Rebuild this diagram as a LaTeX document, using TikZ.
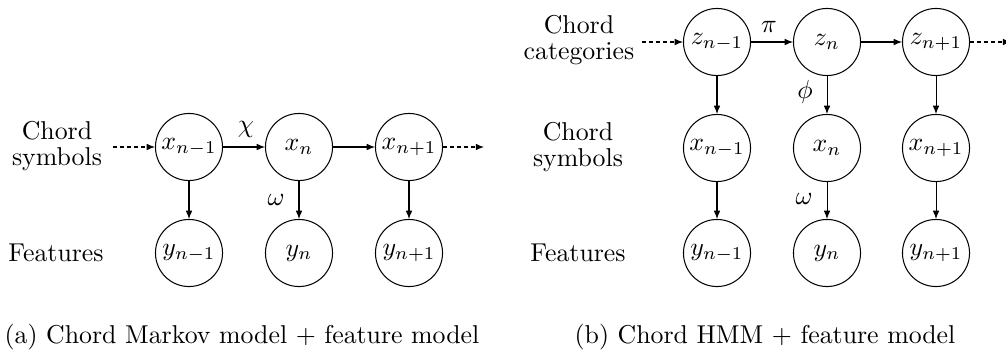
\documentclass[tikz,border=0pt]{standalone}
\usetikzlibrary{arrows.meta}
\begin{document}
\begin{tikzpicture}[x=0.3876pt,y=-0.3876pt,
  var/.style={circle,draw,line width=0.4pt,minimum size=26pt,inner sep=0pt},
  lab/.style={align=center,font=\fontsize{10}{10}\selectfont},
  arr/.style={-{Latex[length=3.2pt,width=2.6pt]},line width=0.4pt},
  dotarr/.style={arr,dash pattern=on 1.5pt off 1.2pt},
  prm/.style={inner sep=0pt}]
\useasboundingbox (0,0) rectangle (1006,349);
% ---------- panel (a) ----------
\node[lab] (la1) at (57,146) {Chord\\symbols};
\node[lab] (la2) at (56,253) {Features};
\node[var] (ax1) at (189,147) {$x_{n-1}$};
\node[var] (ax2) at (299,147) {$x_n$};
\node[var] (ax3) at (409,147) {$x_{n+1}$};
\node[var] (ay1) at (189,253) {$y_{n-1}$};
\node[var] (ay2) at (299,253) {$y_n$};
\node[var] (ay3) at (409,253) {$y_{n+1}$};
\coordinate (ain) at (113,147);
\coordinate (aout) at (484,147);
\draw[dotarr] (ain) -- (ax1);
\draw[arr] (ax1) -- (ax2);
\draw[arr] (ax2) -- (ax3);
\draw[dotarr] (ax3) -- (aout);
\draw[arr] (ax1) -- (ay1);
\draw[arr] (ax2) -- (ay2);
\draw[arr] (ax3) -- (ay3);
\node[prm] (achi) at (246,129) {$\chi$};
\node[prm] (aom) at (276,200) {$\omega$};
\node[anchor=base] (capa) at (242,343) {(a) Chord Markov model + feature model};
% ---------- panel (b) ----------
\node[lab] (lb1) at (579,40) {Chord\\categories};
\node[lab] (lb2) at (578,147) {Chord\\symbols};
\node[lab] (lb3) at (578,253) {Features};
\node[var] (bz1) at (717,42) {$z_{n-1}$};
\node[var] (bz2) at (827,42) {$z_n$};
\node[var] (bz3) at (936,42) {$z_{n+1}$};
\node[var] (bx1) at (717,148) {$x_{n-1}$};
\node[var] (bx2) at (827,148) {$x_n$};
\node[var] (bx3) at (936,148) {$x_{n+1}$};
\node[var] (by1) at (717,253) {$y_{n-1}$};
\node[var] (by2) at (827,253) {$y_n$};
\node[var] (by3) at (936,253) {$y_{n+1}$};
\coordinate (bin) at (642,42);
\coordinate (bout) at (1011,42);
\draw[dotarr] (bin) -- (bz1);
\draw[arr] (bz1) -- (bz2);
\draw[arr] (bz2) -- (bz3);
\draw[dotarr] (bz3) -- (bout);
\draw[arr] (bz1) -- (bx1);
\draw[arr] (bz2) -- (bx2);
\draw[arr] (bz3) -- (bx3);
\draw[arr] (bx1) -- (by1);
\draw[arr] (bx2) -- (by2);
\draw[arr] (bx3) -- (by3);
\node[prm] (bpi) at (769,27) {$\pi$};
\node[prm] (bphi) at (805,92) {$\phi$};
\node[prm] (bom) at (804,199) {$\omega$};
\node[anchor=base] (capb) at (765,343) {(b) Chord HMM + feature model};
\end{tikzpicture}
\end{document}
